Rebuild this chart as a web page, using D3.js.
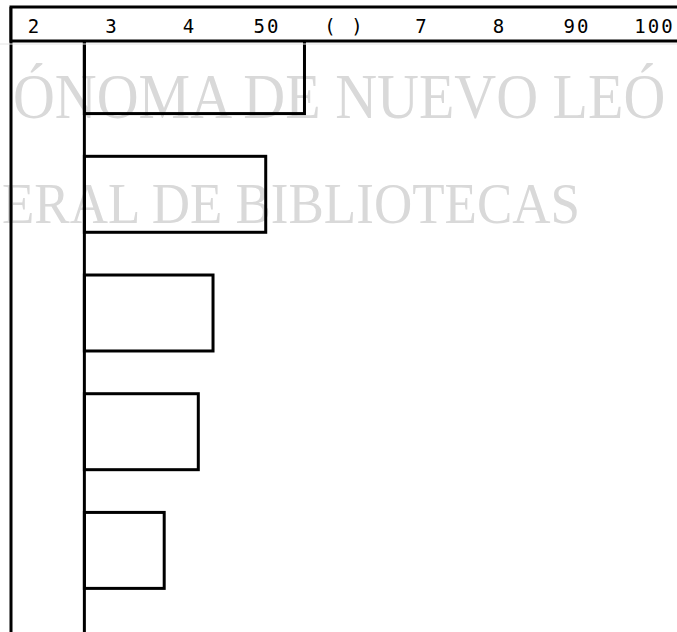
<!DOCTYPE html>
<html><head><meta charset="utf-8">
<script src="https://cdn.jsdelivr.net/npm/d3@7"></script>
<style>html,body{margin:0;padding:0;background:#fff;overflow:hidden}</style>
</head><body>
<svg id="c" width="677" height="632"></svg>
<script>
// data
const categories = ["A", "B", "C", "D", "E"];
const values = [54.9, 49.9, 43.1, 41.2, 36.8];
const baseValue = 26.5;
const tickValues = [20, 30, 40, 50, 60, 70, 80, 90, 100];
const tickLabels = ["2", "3", "4", "50", "( )", "7", "8", "90", "100"];
const watermark = ["ÓNOMA DE NUEVO LEÓ", "ERAL DE BIBLIOTECAS"];

const W = 677, H = 632;
const svg = d3.select("#c");
const x = d3.scaleLinear().domain([20, 100]).range([34, 654]);
const y = d3.scaleBand().domain(categories).range([2, 624]).paddingInner(0.36).paddingOuter(0.3);

// watermark
svg.append("text").attr("transform", "translate(13,118) scale(1,1.1)")
  .attr("font-family", "Liberation Serif").attr("font-size", 58).attr("fill", "#d9d9d9").text(watermark[0]);
svg.append("text").attr("transform", "translate(2,223) scale(1,1.075)")
  .attr("font-family", "Liberation Serif").attr("font-size", 53).attr("fill", "#d9d9d9").text(watermark[1]);

// bars
svg.append("g").selectAll("rect").data(categories).join("rect")
  .attr("x", x(baseValue))
  .attr("y", d => y(d))
  .attr("width", (d, i) => x(values[i]) - x(baseValue))
  .attr("height", y.bandwidth())
  .attr("fill", "none").attr("stroke", "#000").attr("stroke-width", 3);

// baseline and left border
svg.append("line").attr("x1", x(baseValue)).attr("x2", x(baseValue)).attr("y1", 40).attr("y2", H)
  .attr("stroke", "#000").attr("stroke-width", 3);
svg.append("line").attr("x1", 11).attr("x2", 11).attr("y1", 7).attr("y2", H)
  .attr("stroke", "#000").attr("stroke-width", 3);

// header box
svg.append("rect").attr("x", 11).attr("y", 7).attr("width", W + 5).attr("height", 34)
  .attr("fill", "#fff").attr("stroke", "#000").attr("stroke-width", 3);
svg.append("line").attr("x1", 0).attr("x2", W).attr("y1", 44).attr("y2", 44)
  .attr("stroke", "#e4e4e4").attr("stroke-width", 1);

// top axis labels
const axis = d3.axisTop(x).tickValues(tickValues).tickFormat((d, i) => tickLabels[i]).tickSize(0).tickPadding(0);
const g = svg.append("g").attr("transform", "translate(0,33)").call(axis);
g.select(".domain").remove();
g.selectAll("text").attr("font-family", "DejaVu Sans Mono").attr("font-size", 19)
  .attr("letter-spacing", 2).attr("fill", "#000").attr("dy", 0);
</script>
</body></html>
